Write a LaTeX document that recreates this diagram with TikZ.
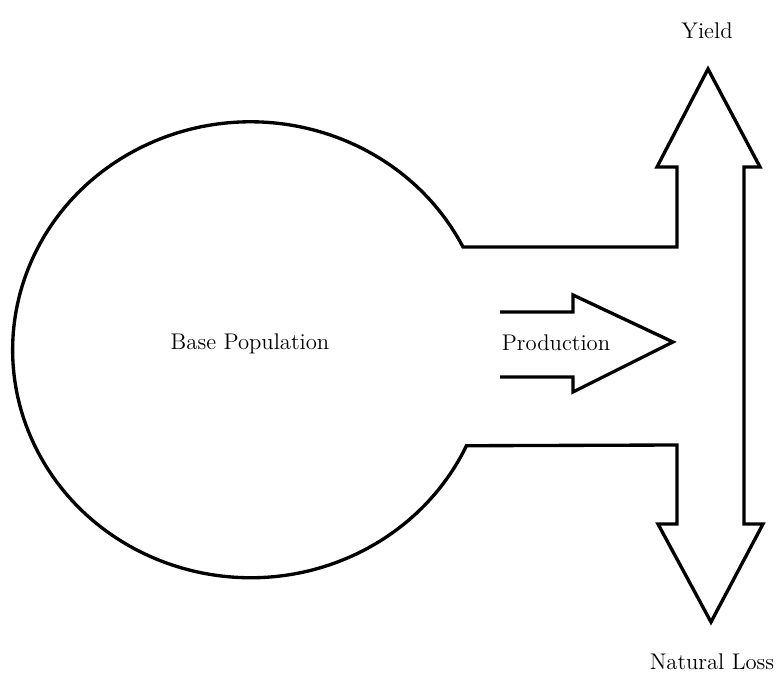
\documentclass[tikz,border=0pt]{standalone}
\usetikzlibrary{positioning}

\begin{document}
\begin{tikzpicture}[x=0.02cm,y=-0.02cm,
	outline/.style={draw,line width=1.9pt,line join=miter},
	every node/.style={font=\fontsize{12.9}{15}\selectfont,inner sep=1pt}]
	\useasboundingbox (0,0) rectangle (782,686);
	% stock with the outflow channel and the two outflow arrows
	\draw[outline] (463,247) arc[start angle=26.8,end angle=335.1,x radius=4.76cm,y radius=4.56cm]
		-- (677,445) -- (677,524) -- (658,524) -- (711,622) -- (763,524) -- (744,524)
		-- (744,167) -- (760,167) -- (708,69) -- (657,167) -- (677,167) -- (677,247) -- cycle;
	% production arrow
	\draw[outline] (500,312) -- (573,312) -- (573,295) -- (673,342) -- (573,392) -- (573,377) -- (500,377);
	\node (base) at (250,344){Base Population};
	\node (prod) at (556,343){Production};
	\node (yield) at (707,31){Yield};
	\node (loss) at (712,662){Natural Loss};
\end{tikzpicture}
\end{document}
